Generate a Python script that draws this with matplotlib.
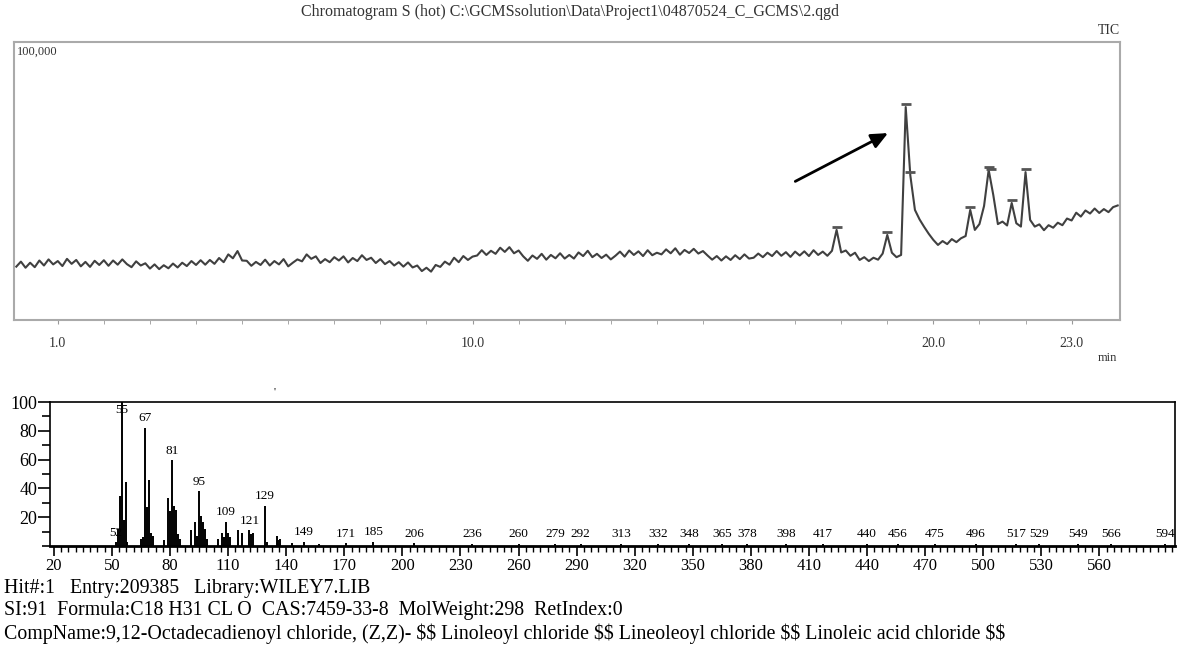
import numpy as np
import matplotlib
matplotlib.use("Agg")
import matplotlib.pyplot as plt
from matplotlib.ticker import MultipleLocator

plt.rcParams["font.family"] = ["Liberation Serif", "DejaVu Serif"]

# TIC chromatogram, thousands of counts, one value every 0.1 min (0.1 .. 24.0)
tic = [
    19.2, 21.0, 18.8, 20.6, 19.0, 21.4, 19.6, 21.8, 20.0, 21.2,
    19.4, 22.0, 20.2, 21.6, 19.3, 20.9, 19.1, 21.3, 19.8, 21.5,
    19.5, 21.4, 19.9, 21.8, 20.1, 19.0, 21.1, 19.6, 20.4, 18.5,
    20.0, 18.3, 19.7, 18.6, 20.3, 18.9, 20.6, 19.4, 21.2, 19.8,
    21.5, 19.9, 21.6, 20.2, 22.3, 20.8, 23.6, 22.2, 24.8, 21.4,
    21.3, 19.5, 20.9, 19.8, 21.7, 19.6, 21.2, 20.0, 21.9, 19.3,
    20.6, 21.8, 21.1, 23.6, 22.0, 22.9, 20.5, 21.9, 20.8, 22.6,
    21.4, 22.9, 20.7, 22.3, 21.2, 23.3, 21.6, 22.4, 20.5, 21.9,
    20.1, 21.2, 19.6, 20.8, 19.2, 20.7, 18.9, 19.6, 17.6, 18.8,
    17.4, 19.8, 19.1, 21.0, 19.9, 22.4, 20.8, 23.0, 21.6, 22.8,
    23.2, 25.1, 23.4, 24.9, 23.8, 26.0, 24.5, 26.2, 24.0, 25.0,
    22.9, 21.3, 23.2, 22.0, 23.8, 21.7, 23.4, 22.2, 24.0, 22.1,
    23.4, 22.1, 24.3, 23.0, 24.9, 22.6, 23.8, 22.3, 23.5, 21.8,
    23.1, 24.6, 22.8, 25.0, 23.4, 24.7, 23.0, 25.1, 23.3, 24.2,
    23.6, 25.4, 24.0, 25.8, 23.5, 25.2, 24.1, 25.6, 23.9, 24.8,
    23.2, 21.7, 23.0, 21.4, 22.9, 21.6, 23.3, 21.9, 23.6, 22.1,
    22.4, 23.9, 22.6, 24.2, 23.0, 24.8, 23.1, 24.4, 22.7, 24.6,
    23.2, 24.7, 23.0, 25.1, 23.4, 24.6, 23.1, 24.9, 32.4, 24.3,
    25.0, 23.1, 24.2, 21.6, 22.6, 21.2, 22.4, 21.7, 23.9, 30.6,
    24.2, 22.6, 23.4, 76.6, 52.0, 39.6, 36.2, 33.5, 31.0, 28.8,
    27.0, 28.4, 27.3, 29.1, 28.0, 29.4, 30.2, 39.6, 32.4, 34.5,
    41.0, 54.0, 45.0, 34.5, 35.4, 34.0, 42.1, 34.8, 33.6, 53.2,
    36.0, 33.6, 34.4, 32.3, 34.1, 33.2, 35.0, 34.1, 36.5, 35.8,
    38.6, 37.2, 39.4, 38.3, 40.1, 38.5, 39.9, 38.8, 40.6, 41.2,
]
rt = np.linspace(0.1, 24.0, len(tic))

# integrated peak tops (marked on the trace)
peak_rt = [17.9, 19.0, 19.4, 19.5, 20.8, 21.2, 21.25, 21.7, 22.0]
peak_top = [32.4, 30.6, 76.6, 52.0, 39.6, 54.0, 53.0, 42.1, 53.2]

rt_ticks = [1, 10, 20, 23]
rt_labels = ["1.0", "10.0", "20.0", "23.0"]

# mass spectrum of the marked peak (relative intensity)
mz = [52, 53, 54, 55, 56, 57, 58, 65, 66, 67, 68, 69, 70, 71, 77, 79, 80, 81,
      82, 83, 84, 85, 91, 93, 94, 95, 96, 97, 98, 99, 105, 107, 108, 109, 110,
      111, 115, 117, 121, 122, 123, 129, 130, 135, 136, 137, 143, 149, 157,
      171, 185, 206, 236, 260, 279, 292, 313, 332, 348, 365, 378, 398, 417,
      440, 456, 475, 496, 517, 529, 549, 566, 594]
rel = [2.5, 12, 35, 100, 18, 44.6, 3, 5, 6, 82, 27, 46, 9, 7, 4, 33, 24, 59.5,
       28, 25, 8, 5, 11, 17, 7, 38, 21, 17, 12, 5, 5, 9, 6, 17, 9,
       6, 11, 9, 11, 8, 9, 28, 3, 7, 4, 5, 2, 3, 1.5,
       2, 3, 2, 1.5, 1.5, 1.5, 1.5, 1.5, 1.5, 1.5, 1.5, 1.5, 1.5, 1.5,
       1.5, 1.5, 1.5, 1.5, 1.5, 1.5, 1.5, 1.5, 1.5]
mz_labeled = [52, 55, 67, 81, 95, 109, 121, 129, 149, 171, 185, 206, 236, 260,
              279, 292, 313, 332, 348, 365, 378, 398, 417, 440, 456, 475, 496,
              517, 529, 549, 566, 594]
mz_ticks = [20, 50, 80, 110, 140, 170, 200, 230, 260, 290, 320, 350, 380, 410,
            440, 470, 500, 530, 560]

title = r"Chromatogram S (hot) C:\GCMSsolution\Data\Project1\04870524_C_GCMS\2.qgd"
hit_lines = [
    "Hit#:1   Entry:209385   Library:WILEY7.LIB",
    "SI:91  Formula:C18 H31 CL O  CAS:7459-33-8  MolWeight:298  RetIndex:0",
    "CompName:9,12-Octadecadienoyl chloride, (Z,Z)- $$ Linoleoyl chloride $$ "
    "Lineoleoyl chloride $$ Linoleic acid chloride $$",
]

W, H = 1179, 647


def fx(x):
    return x / W


def fy(y):
    return 1 - y / H


fig = plt.figure(figsize=(W / 100, H / 100), dpi=100)

# --- chromatogram ---
ax1 = fig.add_axes([fx(14), fy(320), fx(1120) - fx(14), fy(42) - fy(320)])
ax1.plot(rt, tic, color="#404040", lw=1.5)
ax1.plot(peak_rt, [t + 1.2 for t in peak_top], ls="none", marker="_",
         ms=7, mew=2, color="#555555")
ax1.annotate("", xy=(19.07, 67.7), xytext=(16.95, 49.4),
             arrowprops=dict(arrowstyle="-|>,head_length=1.0,head_width=0.45",
                             color="black", lw=2))
ax1.set_xlim(0.05, 24.05)
ax1.set_ylim(0, 100)
ax1.set_yticks([])
ax1.set_xticks(rt_ticks, rt_labels)
ax1.set_xticks(range(1, 24), minor=True)
ax1.tick_params(axis="x", which="both", direction="out", length=3,
                color="#999999", labelsize=10, labelcolor="#333333", pad=9)
for s in ax1.spines.values():
    s.set_color("#aaaaaa")
    s.set_linewidth(1.5)
ax1.text(0.003, 0.985, "100,000", transform=ax1.transAxes, ha="left",
         va="top", fontsize=9, color="#333333")
fig.text(fx(570), fy(12), title, ha="center", va="center", fontsize=11.5,
         color="#333333", parse_math=False)
fig.text(fx(1120), fy(31), "TIC", ha="right", va="center", fontsize=10,
         color="#333333")
fig.text(fx(1107), fy(358), "min", ha="center", va="center", fontsize=9,
         color="#333333")

# --- mass spectrum ---
ax2 = fig.add_axes([fx(50), fy(546), fx(1175) - fx(50), fy(402) - fy(546)])
ax2.vlines(mz, 0, rel, color="black", lw=1.4)
height = dict(zip(mz, rel))
for m in mz_labeled:
    ax2.text(m, min(height[m] + 2.5, 90), str(m), ha="center", va="bottom",
             fontsize=9.5)
ax2.set_xlim(18, 599)
ax2.set_ylim(0, 100)
ax2.set_xticks(mz_ticks)
ax2.xaxis.set_minor_locator(MultipleLocator(3.75, offset=20))
ax2.set_yticks([20, 40, 60, 80, 100])
ax2.yaxis.set_minor_locator(MultipleLocator(10))
ax2.tick_params(axis="x", which="major", direction="out", length=7, width=1.2,
                labelsize=12, pad=2)
ax2.tick_params(axis="x", which="minor", direction="out", length=4, width=1)
ax2.tick_params(axis="y", which="major", direction="out", length=9, width=1.2,
                labelsize=13, pad=0)
ax2.tick_params(axis="y", which="minor", direction="out", length=6, width=1.2)
for s in ax2.spines.values():
    s.set_linewidth(1.2)
ax2.spines["bottom"].set_linewidth(2)
fig.text(fx(275), fy(392), "'", ha="center", va="center", fontsize=8)

for i, line in enumerate(hit_lines):
    fig.text(fx(4), fy(588 + 23 * i), line, ha="left", va="center",
             fontsize=14.3, parse_math=False)

fig.savefig("out.png", dpi=100)
